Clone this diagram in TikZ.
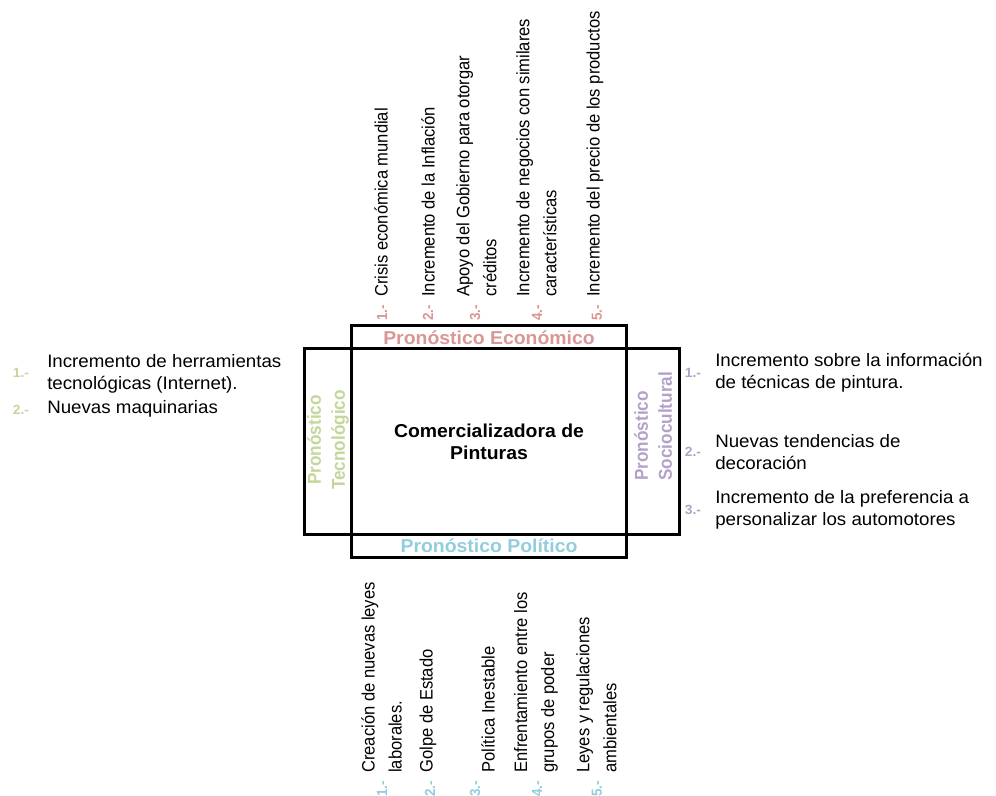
\documentclass[tikz,border=0pt]{standalone}
\usepackage{fontspec}
\setmainfont[FakeStretch=1.04]{Liberation Sans}
\newfontfamily\rotfont[FakeStretch=0.92]{Liberation Sans}

\definecolor{econ}{HTML}{D99694}
\definecolor{tecno}{HTML}{C3D69B}
\definecolor{poli}{HTML}{93CDDD}
\definecolor{socio}{HTML}{B3A2C7}

\tikzset{
  frame/.style={draw, line width=2.25pt},
  item/.style={font=\fontsize{13.5}{16.5}\selectfont, inner sep=0, anchor=west, align=left},
  ritem/.style={font=\rotfont\fontsize{13.5}{20.25}\selectfont, inner sep=0, anchor=west, align=left, rotate=90},
  num/.style={font=\bfseries\fontsize{10}{11}\selectfont, inner sep=0},
  rnum/.style={font=\rotfont\bfseries\fontsize{11}{12}\selectfont, inner sep=0, rotate=90, anchor=west},
  title/.style={font=\bfseries\fontsize{14}{16.5}\selectfont, inner sep=0, align=center},
  rtitle/.style={font=\rotfont\bfseries\fontsize{14}{18}\selectfont, inner sep=0, rotate=90},
}

\begin{document}
\begin{tikzpicture}[x=0.75pt, y=-0.75pt]
  \useasboundingbox (0,0) rectangle (996,796);

  % the two crossed frames
  \draw[frame] (351,325) rectangle (626,557);
  \draw[frame] (304,348) rectangle (679,534);

  % titles
  \node[title] (core) at (489,442) {Comercializadora de\\Pinturas};
  \node[title, text=econ] (econT) at (489,338) {Pronóstico Económico};
  \node[title, text=poli] (poliT) at (489,546) {Pronóstico Político};
  \node[rtitle, text=tecno, align=center] (tecT) at (328,440) {Pronóstico\\Tecnológico};
  \node[rtitle, text=socio, align=left, anchor=west] (socT) at (653,481) {Pronóstico\\Sociocultural};

  % economic factors (top)
  \node[rnum, text=econ] (en1) at (382,321) {1.-};
  \node[rnum, text=econ] (en2) at (428,321) {2.-};
  \node[rnum, text=econ] (en3) at (475,321) {3.-};
  \node[rnum, text=econ] (en4) at (537,321) {4.-};
  \node[rnum, text=econ] (en5) at (597,321) {5.-};
  \node[ritem] (e1) at (381,297) {Crisis económica mundial};
  \node[ritem] (e2) at (428,297) {Incremento de la Inflación};
  \node[ritem] (e3) at (476.5,297) {Apoyo del Gobierno para otorgar\\créditos};
  \node[ritem] (e4) at (536.5,297) {Incremento de negocios con similares\\características};
  \node[ritem] (e5) at (595,297) {Incremento del precio de los productos};

  % political factors (bottom)
  \node[rnum, text=poli] (pn1) at (382,797) {1.-};
  \node[rnum, text=poli] (pn2) at (430,797) {2.-};
  \node[rnum, text=poli] (pn3) at (475,797) {3.-};
  \node[rnum, text=poli] (pn4) at (537,797) {4.-};
  \node[rnum, text=poli] (pn5) at (597,797) {5.-};
  \node[ritem] (p1) at (381.5,773) {Creación de nuevas leyes\\laborales.};
  \node[ritem] (p2) at (428,773) {Golpe de Estado};
  \node[ritem] (p3) at (488,773) {Política Inestable};
  \node[ritem] (p4) at (536,773) {Enfrentamiento entre los\\grupos de poder};
  \node[ritem] (p5) at (596.5,773) {Leyes y regulaciones\\ambientales};

  % technological factors (left)
  \node[num, text=tecno] (tn1) at (21,373) {1.-};
  \node[num, text=tecno] (tn2) at (21,410) {2.-};
  \node[item] (t1) at (47,374) {Incremento de herramientas\\tecnológicas (Internet).};
  \node[item] (t2) at (47,409) {Nuevas maquinarias};

  % sociocultural factors (right)
  \node[num, text=socio] (sn1) at (693,373) {1.-};
  \node[num, text=socio] (sn2) at (693,452) {2.-};
  \node[num, text=socio] (sn3) at (693,510) {3.-};
  \node[item] (s1) at (715,373) {Incremento sobre la información\\de técnicas de pintura.};
  \node[item] (s2) at (715,452) {Nuevas tendencias de\\decoración};
  \node[item] (s3) at (715,510) {Incremento de la preferencia a\\personalizar los automotores};
\end{tikzpicture}
\end{document}
